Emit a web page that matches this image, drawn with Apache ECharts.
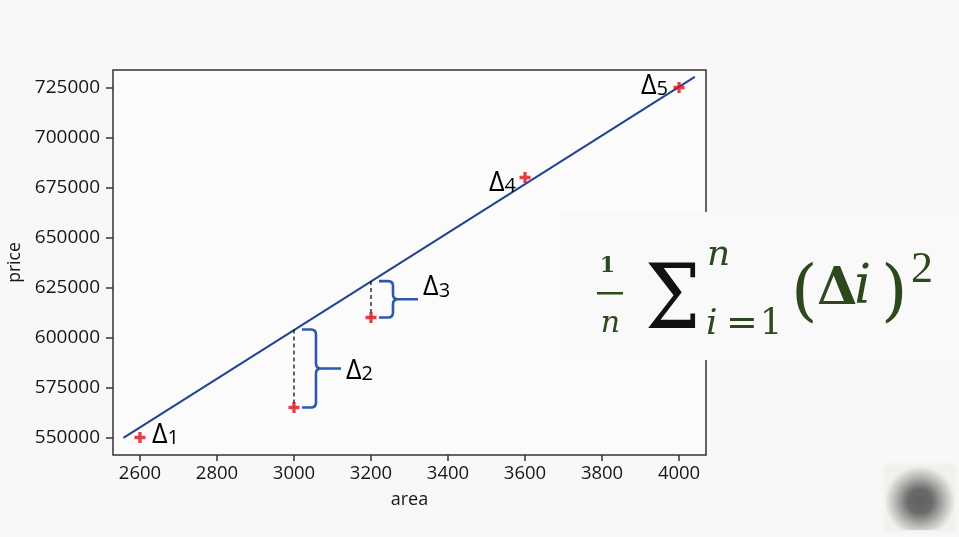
<!DOCTYPE html>
<html><head><meta charset="utf-8">
<script src="https://cdn.jsdelivr.net/npm/echarts@6/dist/echarts.min.js"></script>
<style>html,body{margin:0;padding:0;background:#f8f8f8;}#c{width:959px;height:537px;}</style>
</head><body><div id="c"></div>
<script>
// ---- data ----
const areas = [2600, 3000, 3200, 3600, 4000];
const prices = [550000, 565000, 610000, 680000, 725000];
const pointNames = ['1', '2', '3', '4', '5'];
const fitLineX = [2557, 4041];
const fitLineY = [549800, 730300];
const residualAreas = [3000, 3200];
const residualPointPrices = [565000, 610000];
const residualLinePrices = [604000, 628200];
const residualNames = ['2', '3'];
const xTicks = [2600, 2800, 3000, 3200, 3400, 3600, 3800, 4000];
const yTicks = [550000, 575000, 600000, 625000, 650000, 675000, 700000, 725000];

// ---- styles / annotation layout ----
const pointLabelStyle = { // keyed by point name: which ones carry a label and pixel offset
  '1': { dx: 12, dy: -3, align: 'left' },
  '4': { dx: -9, dy: 5, align: 'right' },
  '5': { dx: -11, dy: -2, align: 'right' }
};
const braceLabelDy = [2, -12];
const GREEN = '#2d481c';
const TXT = '#161616';
const deltaRich = {
  d: { fontSize: 27, fontFamily: 'Open Sans', color: '#111', lineHeight: 28, verticalAlign: 'bottom' },
  s: { fontSize: 20, fontFamily: 'Open Sans', color: '#111', lineHeight: 22, verticalAlign: 'bottom' }
};

const chart = echarts.init(document.getElementById('c'), null, { renderer: 'canvas' });

const scatterData = areas.map((a, i) => [a, prices[i]]);
const lineData = fitLineX.map((a, i) => [a, fitLineY[i]]);
const braceData = residualAreas.map((a, i) => [a, residualPointPrices[i], residualLinePrices[i], residualNames[i]]);
const labelData = areas.map((a, i) => [a, prices[i], pointNames[i]]).filter(d => pointLabelStyle[d[2]]);

const option = {
  backgroundColor: '#f8f8f8',
  animation: false,
  grid: { left: 113, top: 70, width: 593, height: 385, containLabel: false, outerBoundsMode: 'none', show: true, borderColor: '#333', borderWidth: 1.5, backgroundColor: '#fbfbfb' },
  xAxis: {
    type: 'value', min: 2530, max: 4070,
    name: 'area', nameLocation: 'middle', nameGap: 36,
    nameTextStyle: { fontFamily: 'Open Sans', fontSize: 18, color: TXT },
    axisLine: { show: false },
    splitLine: { show: false },
    axisTick: { show: true, length: 6, lineStyle: { color: '#333', width: 1.5 }, customValues: xTicks },
    axisLabel: { customValues: xTicks, margin: 9, fontFamily: 'Open Sans', fontSize: 18.5, color: TXT, formatter: v => String(v) }
  },
  yAxis: {
    type: 'value', min: 541250, max: 733750,
    name: 'price', nameLocation: 'middle', nameGap: 89,
    nameTextStyle: { fontFamily: 'Open Sans', fontSize: 17.5, color: TXT },
    axisLine: { show: false },
    splitLine: { show: false },
    axisTick: { show: true, length: 7, lineStyle: { color: '#333', width: 1.5 }, customValues: yTicks },
    axisLabel: { customValues: yTicks, margin: 13, fontFamily: 'Open Sans', fontSize: 19, color: TXT, formatter: v => String(v) }
  },
  series: [
    {
      type: 'line', data: lineData, symbol: 'none', z: 2,
      lineStyle: { color: '#23428f', width: 2 }
    },
    {
      type: 'custom', z: 3, data: braceData,
      encode: { x: 0, y: [1, 2] },
      renderItem: function (params, api) {
        const x = api.value(0);
        const pLo = api.coord([x, api.value(1)]);
        const pHi = api.coord([x, api.value(2)]);
        const x0 = pLo[0], yT = pHi[1], yB = pLo[1], yM = (yT + yB) / 2;
        const a = x0 + 8, s = x0 + 22, t = x0 + 47, r = 5;
        const path = `M${a},${yT} L${s - r},${yT} Q${s},${yT} ${s},${yT + r} L${s},${yM - r} Q${s},${yM} ${s + r},${yM} L${t},${yM} M${s + r},${yM} Q${s},${yM} ${s},${yM + r} L${s},${yB - r} Q${s},${yB} ${s - r},${yB} L${a},${yB}`;
        const idx = params.dataIndex;
        return {
          type: 'group',
          children: [
            { type: 'line', shape: { x1: x0, y1: yT, x2: x0, y2: yB }, style: { stroke: '#111', lineWidth: 1.3, lineDash: [4, 3] } },
            { type: 'path', shape: { pathData: path }, style: { stroke: '#2c59ad', lineWidth: 2.6, fill: null } },
            { type: 'text', x: t + 5, y: yM + braceLabelDy[idx], style: { text: '{d|Δ}{s|' + api.value(3) + '}', rich: deltaRich, align: 'left', verticalAlign: 'middle' } }
          ]
        };
      }
    },
    {
      type: 'scatter', data: scatterData, z: 4,
      symbol: 'path://M3.5,0H6.5V3.5H10V6.5H6.5V10H3.5V6.5H0V3.5H3.5Z', symbolSize: 11,
      itemStyle: { color: '#d9121b' }
    },
    {
      type: 'custom', z: 5, data: labelData,
      encode: { x: 0, y: 1 },
      renderItem: function (params, api) {
        const p = api.coord([api.value(0), api.value(1)]);
        const name = String(api.value(2));
        const st = pointLabelStyle[name];
        return { type: 'text', x: p[0] + st.dx, y: p[1] + st.dy, style: { text: '{d|Δ}{s|' + name + '}', rich: deltaRich, align: st.align, verticalAlign: 'middle' } };
      }
    }
  ],
  graphic: [
    { type: 'rect', z: 100, shape: { x: 560, y: 212, width: 399, height: 148 }, style: { fill: '#f9f9f9' } },
    { type: 'text', z: 101, x: 607.5, y: 266, style: { text: '1', font: 'bold 22px "DejaVu Serif"', fill: GREEN, align: 'center', verticalAlign: 'middle' } },
    { type: 'rect', z: 101, shape: { x: 597, y: 292, width: 26, height: 2.5 }, style: { fill: GREEN } },
    { type: 'text', z: 101, x: 610.5, y: 324, style: { text: 'n', font: 'italic 30px "DejaVu Serif"', fill: GREEN, align: 'center', verticalAlign: 'middle' } },
    { type: 'text', z: 101, x: 645, y: 305, scaleX: 0.88, style: { text: 'Σ', font: '89px "DejaVu Serif"', fill: '#111', align: 'left', verticalAlign: 'middle' } },
    { type: 'text', z: 101, x: 707, y: 256, style: { text: 'n', font: 'italic 36px "DejaVu Serif"', fill: GREEN, align: 'left', verticalAlign: 'middle' } },
    { type: 'text', z: 101, x: 706, y: 325, style: { text: 'i', font: 'italic 36px "DejaVu Serif"', fill: GREEN, align: 'left', verticalAlign: 'middle' } },
    { type: 'text', z: 101, x: 726, y: 325, style: { text: '=', font: '38px "DejaVu Serif"', fill: GREEN, align: 'left', verticalAlign: 'middle' } },
    { type: 'text', z: 101, x: 760, y: 325, style: { text: '1', font: '35px "DejaVu Serif"', fill: GREEN, align: 'left', verticalAlign: 'middle' } },
    { type: 'text', z: 101, x: 791, y: 295, style: { text: '(', font: '68px "DejaVu Serif"', fill: GREEN, align: 'left', verticalAlign: 'middle' } },
    { type: 'text', z: 101, x: 817, y: 290, style: { text: 'Δ', font: 'bold 52px "DejaVu Serif"', fill: GREEN, align: 'left', verticalAlign: 'middle' } },
    { type: 'text', z: 101, x: 854, y: 289, style: { text: 'i', font: 'italic 54px "DejaVu Serif"', fill: GREEN, align: 'left', verticalAlign: 'middle' } },
    { type: 'text', z: 101, x: 881, y: 295, style: { text: ')', font: '68px "DejaVu Serif"', fill: GREEN, align: 'left', verticalAlign: 'middle' } },
    { type: 'text', z: 101, x: 911, y: 270, style: { text: '2', font: '44px "Liberation Serif"', fill: GREEN, align: 'left', verticalAlign: 'middle' } },
    { type: 'rect', z: 101, shape: { x: 886, y: 466, width: 68, height: 64 },
      style: { fill: new echarts.graphic.RadialGradient(0.5, 0.55, 0.55, [
        { offset: 0, color: '#5f5f5f' }, { offset: 0.35, color: '#6c6c6c' }, { offset: 0.7, color: '#b9b7b3' }, { offset: 1, color: '#f2f0ec' }
      ]), shadowBlur: 6, shadowColor: 'rgba(235,232,226,1)' } }
  ]
};
chart.setOption(option);
</script>
</body></html>
